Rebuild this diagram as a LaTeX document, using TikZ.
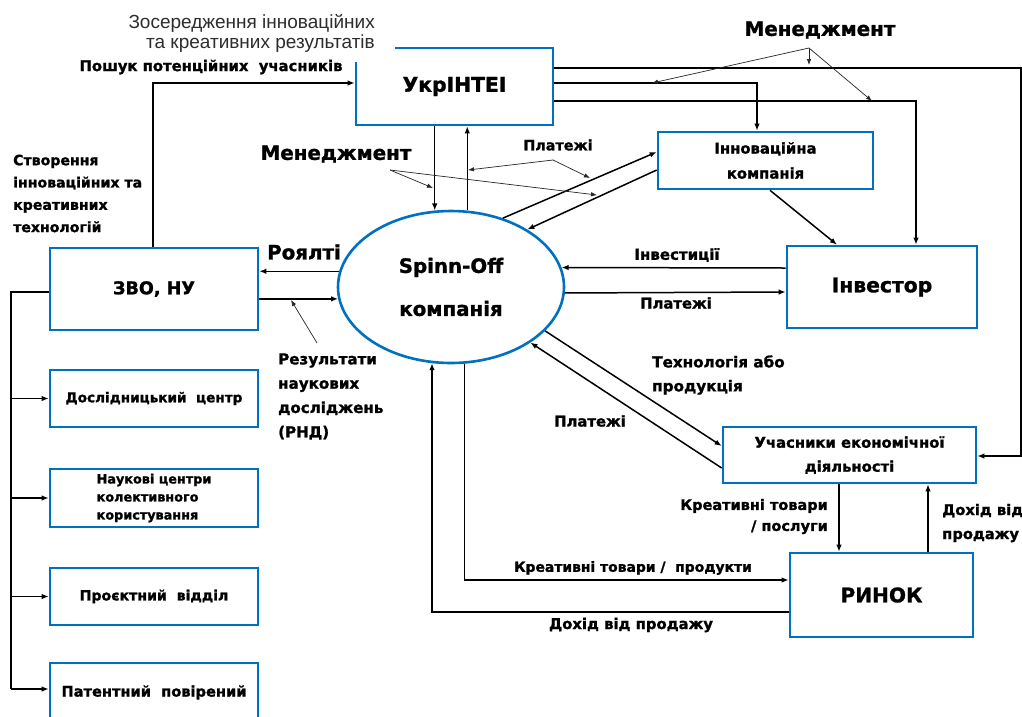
\documentclass[tikz,border=0pt]{standalone}
\usepackage{fontspec}
\setmainfont{DejaVu Sans}[BoldFeatures={FakeBold=1.3}]
\newfontfamily\zfont{Liberation Sans}
\usetikzlibrary{arrows.meta,shapes.geometric,calc}
\definecolor{bblue}{RGB}{0,112,192}
\definecolor{zgray}{RGB}{45,45,45}
\newcommand\fsz[2]{\fontsize{#1}{#2}\selectfont}
\begin{document}
\begin{tikzpicture}[x=1pt,y=-1pt,
  box/.style={draw=bblue, line width=2.6pt, fill=white, inner sep=0pt, align=center},
  ell/.style={ellipse, draw=bblue, line width=2.6pt, fill=white, inner sep=0pt, align=center},
  lbl/.style={inner sep=0pt},
  arr/.style={line width=1.5pt, -{Latex[length=7pt,width=5.5pt]}},
  ln/.style={line width=1.5pt},
  ptr/.style={line width=0.7pt, draw=black!85, -{Latex[length=6pt,width=4.5pt]}}]
\useasboundingbox (0,0) rectangle (1022,716);
\clip (0,0) rectangle (1022,716);
\fill[white] (0,0) rectangle (1022,716);

% ---- nodes ----
\node[box, minimum width=197pt, minimum height=77pt, font=\bfseries\fsz{20.3}{24}] (ukr) at (454.5,86.5) {УкрІНТЕІ};
\node[box, minimum width=215pt, minimum height=57pt, font=\bfseries\fsz{14.8}{25}] (inn) at (765.5,160.5) {Інноваційна\\компанія};
\node[box, minimum width=190pt, minimum height=82pt, font=\bfseries\fsz{20.3}{24}] (inv) at (882,287) {Інвестор};
\node[box, minimum width=253pt, minimum height=56pt, font=\bfseries\fsz{14.8}{24}] (uch) at (849.5,455) {Учасники економічної\\діяльності};
\node[box, minimum width=183pt, minimum height=84pt, font=\bfseries\fsz{20.1}{24}] (rin) at (881.5,595) {РИНОК};
\node[box, minimum width=208pt, minimum height=82pt, font=\bfseries\fsz{17.6}{22}] (zvo) at (154,289) {ЗВО, НУ};
\node[box, minimum width=208pt, minimum height=57pt, font=\bfseries\fsz{13.6}{16}] (dos) at (154,398.5) {Дослідницький\ \ центр};
\node[box, minimum width=208pt, minimum height=58pt, align=left, font=\bfseries\fsz{12.8}{18}] (nau) at (154,498) {Наукові центри\\колективного\\користування};
\node[box, minimum width=208pt, minimum height=57pt, font=\bfseries\fsz{14.1}{16}] (pro) at (154,596.5) {Проєктний\ \ відділ};
\node[box, minimum width=208pt, minimum height=59pt, font=\bfseries\fsz{14.6}{16}] (pat) at (154,692.5) {Патентний\ \ повірений};
\node[ell, minimum width=226pt, minimum height=152pt, font=\bfseries\fsz{19.8}{43}] (sp) at (451,287) {Spinn-Off\\компанія};

% ---- helper coordinates ----
\coordinate (xA) at (153,83);
\coordinate (yB) at (0,83);
\coordinate (xB) at (757,0);
\coordinate (yC) at (0,68);
\coordinate (xC) at (1021,0);
\coordinate (yC2) at (0,456);
\coordinate (yD) at (0,101);
\coordinate (xD) at (916,0);
\coordinate (xQ) at (839,0);
\coordinate (xR) at (928,0);
\coordinate (xL) at (11,0);
\coordinate (yL) at (0,292);
\coordinate (yP) at (0,689);

% ---- connectors ----
\draw[arr] (zvo.north -| xA) |- (ukr.west |- xA);
\draw[arr] (ukr.east |- yB) -| (inn.north -| xB);
\draw[arr] (ukr.east |- yC) -- (xC |- yC) -- (xC |- yC2) -- (uch.east |- yC2);
\draw[arr] (ukr.east |- yD) -| (inv.north -| xD);
\draw[arr] (ukr.south -| sp.102) -- (sp.102);
\draw[arr] (sp.78) -- (ukr.south -| sp.78);
\draw[arr] (sp.53) -- ([yshift=8.5pt]inn.west);
\draw[arr] ([yshift=-9.5pt]inn.west) -- (sp.37);
\draw[arr] ([xshift=4.5pt]inn.south) -- ([xshift=-45pt]inv.north);
\draw[arr] ([yshift=19pt]inv.west) -- (sp.10);
\draw[arr] (sp.-3) -- ([yshift=-5pt]inv.west);
\draw[arr] (sp.172) -- (zvo.east |- sp.172);
\draw[arr] (zvo.east |- sp.186) -- (sp.186);
\draw[arr] (sp.-25) -- ([yshift=9pt]uch.west);
\draw[arr] ([yshift=-13pt]uch.west) -- (sp.-35.5);
\draw[arr] (sp.-80) |- ([yshift=15pt]rin.west);
\draw[arr] ([yshift=-17pt]rin.west) -| (sp.-104);
\draw[arr] (uch.south -| xQ) -- (rin.north -| xQ);
\draw[arr] (rin.north -| xR) -- (uch.south -| xR);
\draw[ln] (zvo.west |- yL) -- (xL |- yL) -- (xL |- yP);
\draw[arr] (xL |- dos.west) -- (dos.west);
\draw[arr] (xL |- nau.west) -- (nau.west);
\draw[arr] (xL |- pro.west) -- (pro.west);
\draw[arr] (xL |- yP) -- (pat.west |- yP);

% ---- labels ----
\node[anchor=north east, inner sep=0pt, fill=white, minimum height=58pt, align=right, text=zgray, font=\zfont\fsz{19}{20}] (zos) at (395,4) {Зосередження інноваційних\hspace*{20pt}\\та креативних результатів\hspace*{20pt}};
\node[lbl, font=\bfseries\fsz{14.8}{16}] (posh) at (211,67) {Пошук потенційних\ \ учасників};
\node[lbl, anchor=west, align=left, font=\bfseries\fsz{14.1}{22.3}] (stv) at (13,193.5) {Створення\\інноваційних та\\креативних\\технологій};
\node[lbl, font=\bfseries\fsz{19.8}{24}] (menL) at (336,154) {Менеджмент};
\node[lbl, font=\bfseries\fsz{19.8}{24}] (menR) at (820,30) {Менеджмент};
\node[lbl, font=\bfseries\fsz{14.3}{16}] (plT) at (558,145) {Платежі};
\node[lbl, font=\bfseries\fsz{19.8}{24}] (roy) at (304,252) {Роялті};
\node[lbl, anchor=west, align=left, font=\bfseries\fsz{15.1}{24.3}] (rnd) at (278,396.5) {Результати\\наукових\\досліджень\\(РНД)};
\node[lbl, font=\bfseries\fsz{15}{16}] (invl) at (677,255) {Інвестиції};
\node[lbl, font=\bfseries\fsz{14.8}{16}] (plI) at (676,303) {Платежі};
\node[lbl, anchor=west, align=left, font=\bfseries\fsz{15.2}{24}] (tech) at (652,375) {Технологія або\\продукція};
\node[lbl, font=\bfseries\fsz{14.8}{16}] (plU) at (590,421) {Платежі};
\node[lbl, anchor=east, align=right, font=\bfseries\fsz{14.5}{21}] (krp) at (828,516.5) {Креативні товари\\/ послуги};
\node[lbl, anchor=west, align=left, font=\bfseries\fsz{14.7}{24}] (doh2) at (942,523) {Дохід від\\продажу};
\node[lbl, font=\bfseries\fsz{13.9}{16}] (krt) at (633,568) {Креативні товари /\ \ продукти};
\node[lbl, font=\bfseries\fsz{14.8}{16}] (doh) at (631,625) {Дохід від продажу};

% ---- pointers ----
\coordinate (mL) at (390,170);
\coordinate (mLa) at (433,188);
\coordinate (mLb) at (597,195);
\coordinate (pT) at (553,160);
\coordinate (pTa) at (468,170);
\coordinate (pTb) at (590,178);
\coordinate (mR) at (809,48);
\coordinate (mRa) at (809,65);
\coordinate (mRb) at (652,83);
\coordinate (mRc) at (872,101);
\coordinate (rP) at (317,343);
\coordinate (rPa) at (291,300);
\draw[ptr] (mL) -- (mLa);
\draw[ptr] (mL) -- (mLb);
\draw[ptr] (pT) -- (pTa);
\draw[ptr] (pT) -- (pTb);
\draw[ptr] (mR) -- (mRa);
\draw[ptr] (mR) -- (mRb);
\draw[ptr] (mR) -- (mRc);
\draw[ptr] (rP) -- (rPa);
\end{tikzpicture}
\end{document}
